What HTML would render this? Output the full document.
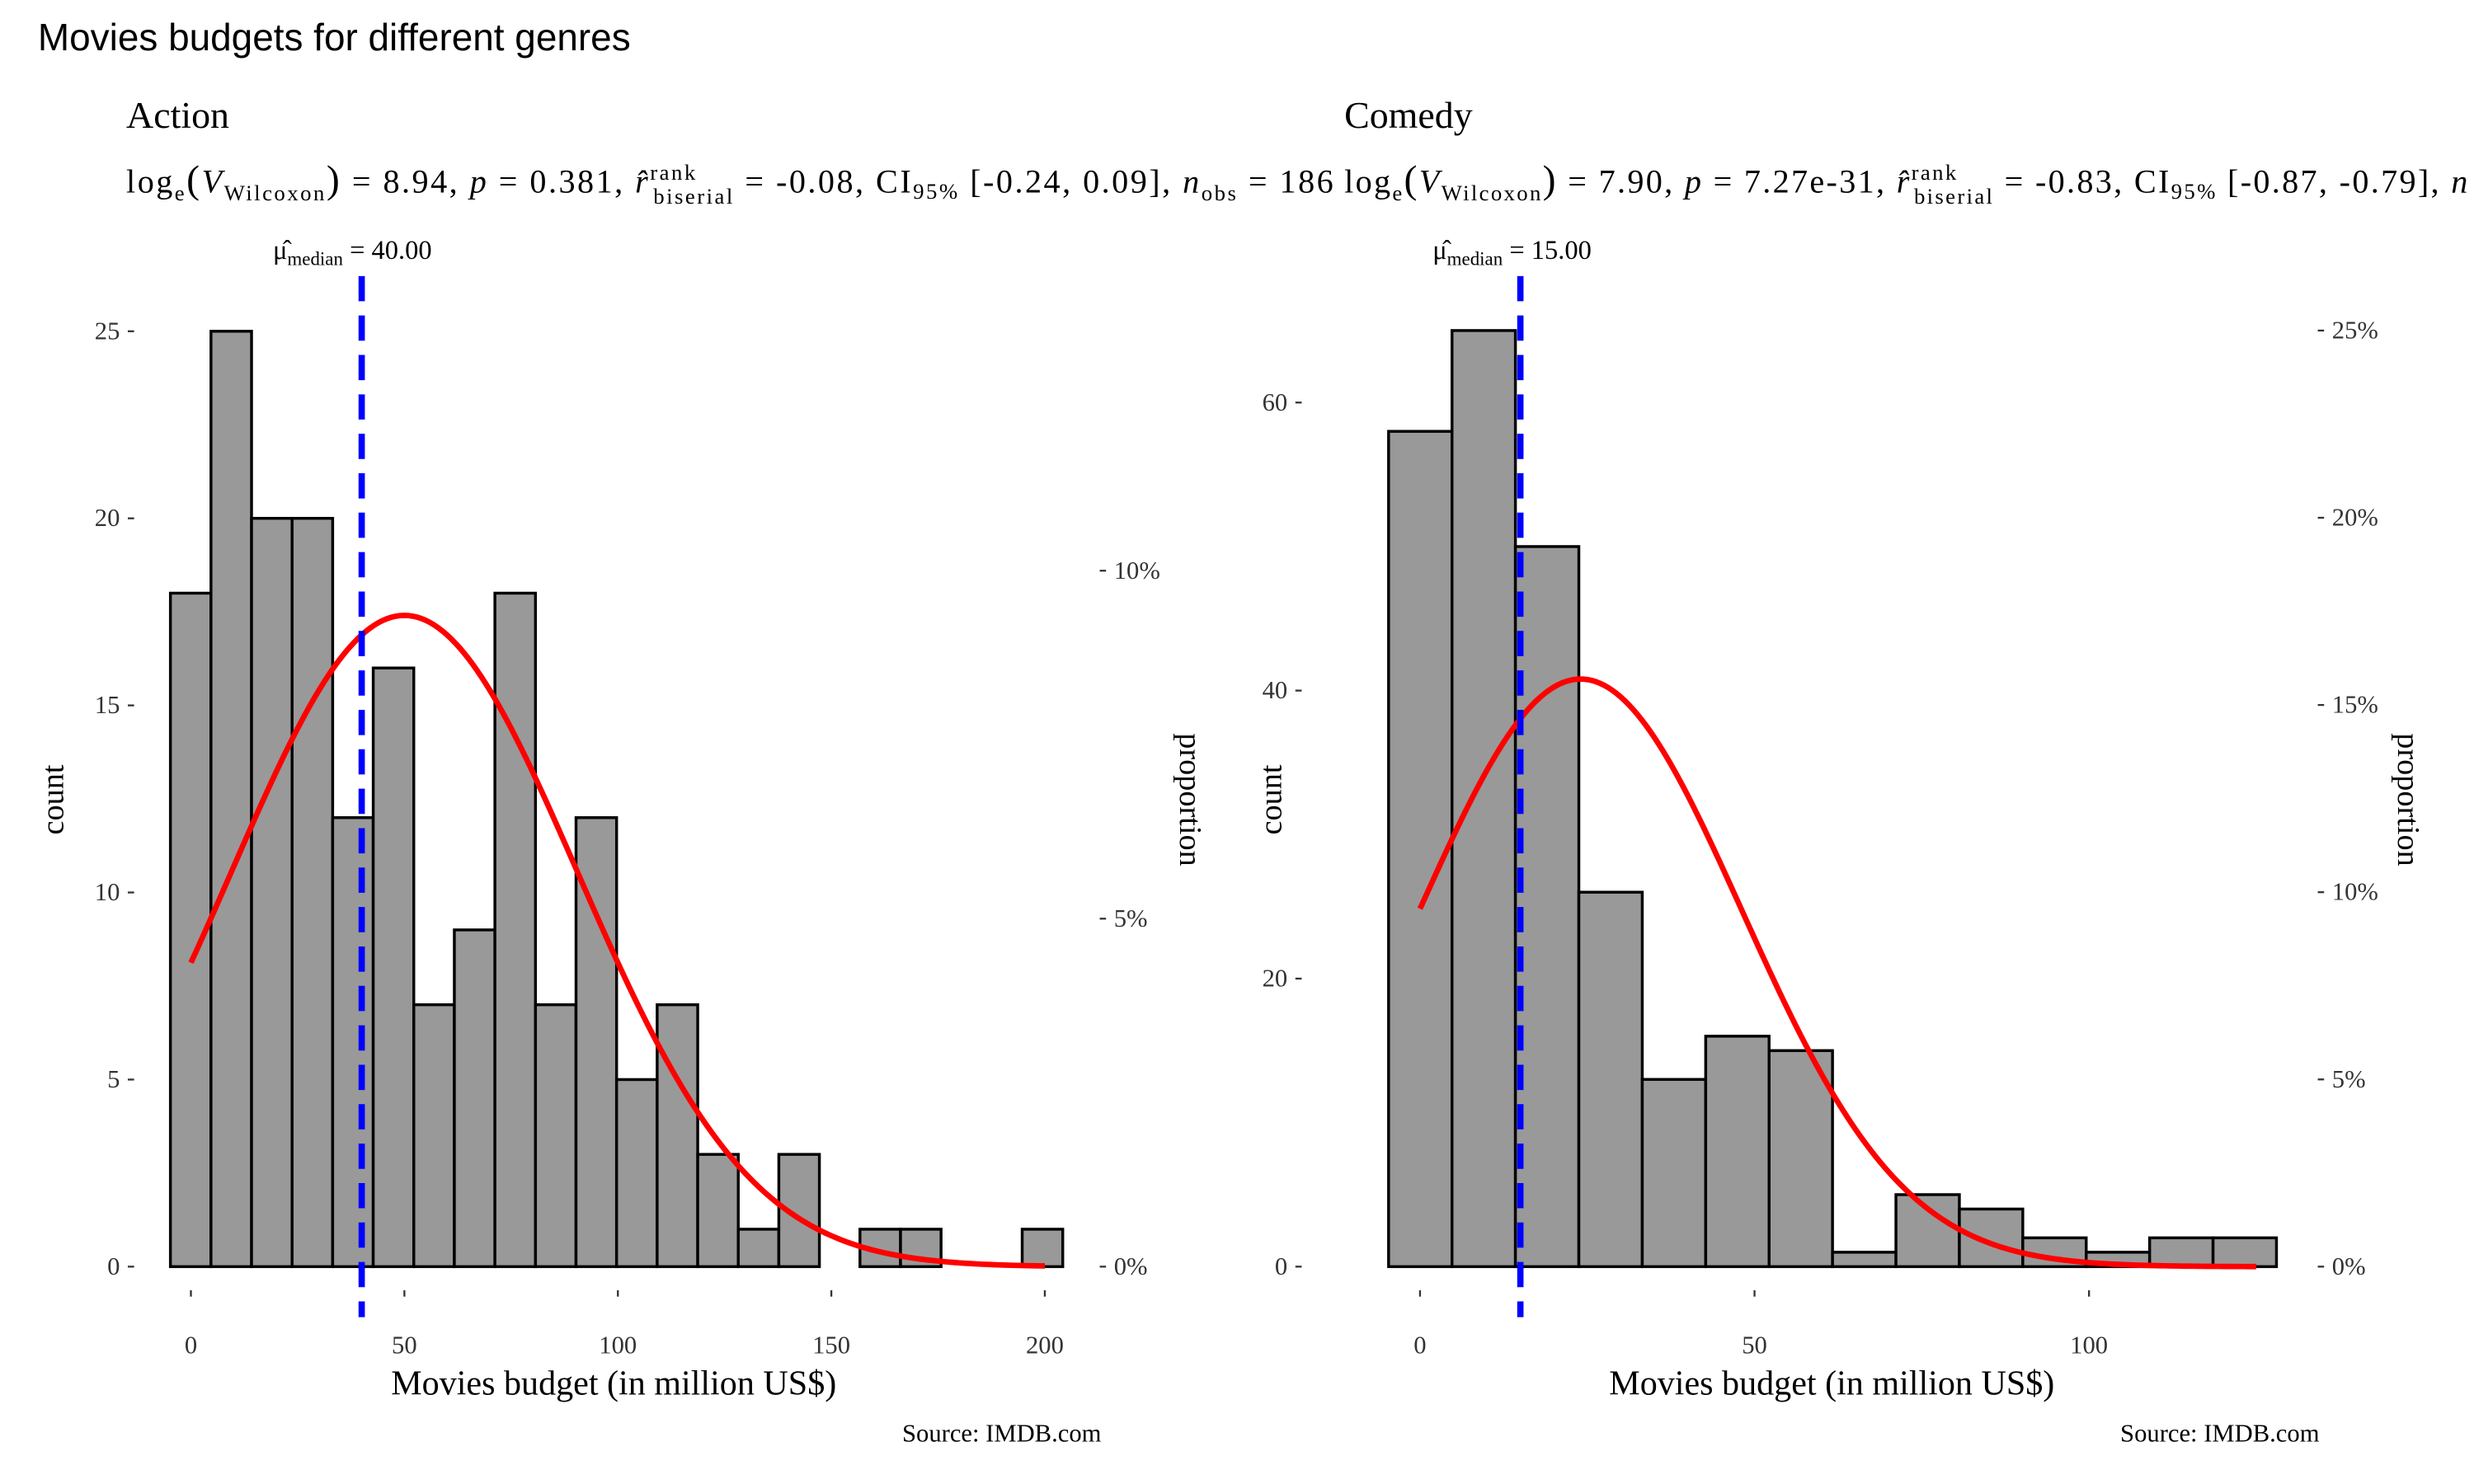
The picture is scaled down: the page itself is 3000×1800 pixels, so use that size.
<!DOCTYPE html>
<html><head><meta charset="utf-8"><style>
html,body{margin:0;padding:0;background:#fff}
svg{display:block}
text{font-family:"Liberation Serif",serif;fill:#000}
.tick{font-size:16px;fill:#333}
</style></head><body>
<svg id="chart" width="3000" height="1800" viewBox="0 0 1568 940.8" xmlns="http://www.w3.org/2000/svg">
<text x="24" y="32" style="font-family:'Liberation Sans',sans-serif;font-size:24px">Movies budgets for different genres</text>

<text x="80" y="81" font-size="24">Action</text>
<text x="80" y="122" font-size="21" textLength="765" lengthAdjust="spacing">log<tspan font-size="14" dy="5">e</tspan><tspan dy="-5" font-size="25">(</tspan><tspan font-style="italic">V</tspan><tspan font-size="14" dy="5">Wilcoxon</tspan><tspan dy="-5" font-size="25">)</tspan> = 8.94, <tspan font-style="italic">p</tspan> = 0.381, <tspan font-style="italic">r̂</tspan><tspan font-size="14" dy="-8">rank</tspan><tspan font-size="14" dx="-28" dy="15">biserial</tspan><tspan dy="-7"> = -0.08, CI</tspan><tspan font-size="14" dy="4">95%</tspan><tspan dy="-4"> [-0.24, 0.09], </tspan><tspan font-style="italic">n</tspan><tspan font-size="14" dy="5">obs</tspan><tspan dy="-5"> = 186</tspan></text>
<text x="173" y="164" font-size="17" fill="#333">μ̂<tspan font-size="12" dy="4">median</tspan><tspan dy="-4"> = 40.00</tspan></text>

<text x="852" y="81" font-size="24">Comedy</text>
<text x="852" y="122" font-size="21" textLength="712" lengthAdjust="spacing">log<tspan font-size="14" dy="5">e</tspan><tspan dy="-5" font-size="25">(</tspan><tspan font-style="italic">V</tspan><tspan font-size="14" dy="5">Wilcoxon</tspan><tspan dy="-5" font-size="25">)</tspan> = 7.90, <tspan font-style="italic">p</tspan> = 7.27e-31, <tspan font-style="italic">r̂</tspan><tspan font-size="14" dy="-8">rank</tspan><tspan font-size="14" dx="-28" dy="15">biserial</tspan><tspan dy="-7"> = -0.83, CI</tspan><tspan font-size="14" dy="4">95%</tspan><tspan dy="-4"> [-0.87, -0.79], </tspan><tspan font-style="italic">n</tspan></text>
<text x="908" y="164" font-size="17" fill="#333">μ̂<tspan font-size="12" dy="4">median</tspan><tspan dy="-4"> = 15.00</tspan></text>

<g id="panels"></g>
</svg>
<script>
// Action data
const actionCounts = [18,25,20,20,12,16,7,9,18,7,12,5,7,3,1,3,0,1,1,0,0,1];
const actionBinStart = -4.8;
const actionBinWidth = 9.5;
const actionMedian = 40;
const actionMean = 50;
const actionSd = 40.5;
const actionXTicks = [0,50,100,150,200];
const actionYTicks = [0,5,10,15,20,25];
const actionPropTicks = [0,0.05,0.10];
const actionPropLabels = ["0%","5%","10%"];
// Comedy data
const comedyCounts = [58,65,50,26,13,16,15,1,5,4,2,1,2,2];
const comedyBinStart = -4.7;
const comedyBinWidth = 9.48;
const comedyMedian = 15;
const comedyMean = 24;
const comedySd = 24.1;
const comedyXTicks = [0,50,100];
const comedyYTicks = [0,20,40,60];
const comedyPropTicks = [0,0.05,0.10,0.15,0.20,0.25];
const comedyPropLabels = ["0%","5%","10%","15%","20%","25%"];

const NS="http://www.w3.org/2000/svg";
const root=document.getElementById('panels');
function mk(tag,attrs,parent){const e=document.createElementNS(NS,tag);for(const k in attrs)e.setAttribute(k,attrs[k]);(parent||root).appendChild(e);return e;}

function panel(p){
  const g=mk('g',{});
  
  
  const n=p.counts.reduce((a,b)=>a+b,0);
  const X=v=>p.x0+(v-0)*p.xs;
  const Y=v=>803-v*p.ys;
  p.yTicks.forEach(t=>{
    const l=mk('line',{x1:p.axX-13,x2:p.axX-9,y1:Y(t),y2:Y(t),stroke:'#333','stroke-width':1.2},g);
    
    
    const tx=mk('text',{x:p.axX-18,y:Y(t)+5,'text-anchor':'end',class:'tick'},g);
    tx.textContent=t;
    
    
  });
  p.propTicks.forEach((t,i)=>{
    const y=Y(t*n);
    const l=mk('line',{x1:p.rx,x2:p.rx+4,y1:y,y2:y,stroke:'#333','stroke-width':1.2},g);
    
    
    const tx=mk('text',{x:p.rx+9,y:y+5,class:'tick'},g);
    tx.textContent=p.propLabels[i];
    
    
  });
  p.xTicks.forEach(t=>{
    const l=mk('line',{x1:X(t),x2:X(t),y1:818,y2:822,stroke:'#333','stroke-width':1.2},g);
    
    
    const tx=mk('text',{x:X(t),y:858,'text-anchor':'middle',class:'tick'},g);
    tx.textContent=t;
    
    
  });
  p.counts.forEach((c,i)=>{
    const a=p.binStart+i*p.binWidth, b=a+p.binWidth;
    const r=mk('rect',{x:X(a),y:Y(c),width:X(b)-X(a),height:Y(0)-Y(c),fill:'#999',stroke:'#000','stroke-width':1.8},g);
    
    
  });
  let d='';
  const xmin=0,xmax=p.curveMax;
  for(let k=0;k<=200;k++){
    const v=xmin+(xmax-xmin)*k/200;
    const dens=n*p.binWidth/(p.sd*Math.sqrt(2*Math.PI))*Math.exp(-Math.pow(v-p.mean,2)/(2*p.sd*p.sd));
    d+=(k?'L':'M')+X(v).toFixed(2)+','+Y(dens).toFixed(2);
  }
  const c=mk('path',{d:d,fill:'none',stroke:'#f00','stroke-width':3.5},g);
  
  
  const m=mk('line',{x1:X(p.median),x2:X(p.median),y1:175,y2:835,stroke:'#00f','stroke-width':4,'stroke-dasharray':'16,9'},g);
  
  
  const xt=mk('text',{x:p.xtX,y:884,'text-anchor':'middle','font-size':22},g);
  xt.textContent='Movies budget (in million US$)';
  
  
  const yt=mk('text',{transform:`translate(${p.ytX},507) rotate(-90)`,'text-anchor':'middle','font-size':20},g);
  yt.textContent='count';
  
  
  const pt=mk('text',{transform:`translate(${p.ptX},507) rotate(90)`,'text-anchor':'middle','font-size':20},g);
  pt.textContent='proportion';
  
  
  const src=mk('text',{x:p.srcX,y:914,'text-anchor':'end','font-size':16},g);
  src.textContent='Source: IMDB.com';
  
  
}
panel({name:'action',counts:actionCounts,binStart:actionBinStart,binWidth:actionBinWidth,median:actionMedian,mean:actionMean,sd:actionSd,
  xTicks:actionXTicks,yTicks:actionYTicks,propTicks:actionPropTicks,propLabels:actionPropLabels,
  x0:121,xs:2.706,ys:23.72,axX:94,rx:697,curveMax:200,xtX:389,ytX:40,ptX:748,srcX:698});
panel({name:'comedy',counts:comedyCounts,binStart:comedyBinStart,binWidth:comedyBinWidth,median:comedyMedian,mean:comedyMean,sd:comedySd,
  xTicks:comedyXTicks,yTicks:comedyYTicks,propTicks:comedyPropTicks,propLabels:comedyPropLabels,
  x0:900,xs:4.24,ys:9.13,axX:834,rx:1469,curveMax:125,xtX:1161,ytX:812,ptX:1520,srcX:1470});
</script>
</body></html>
